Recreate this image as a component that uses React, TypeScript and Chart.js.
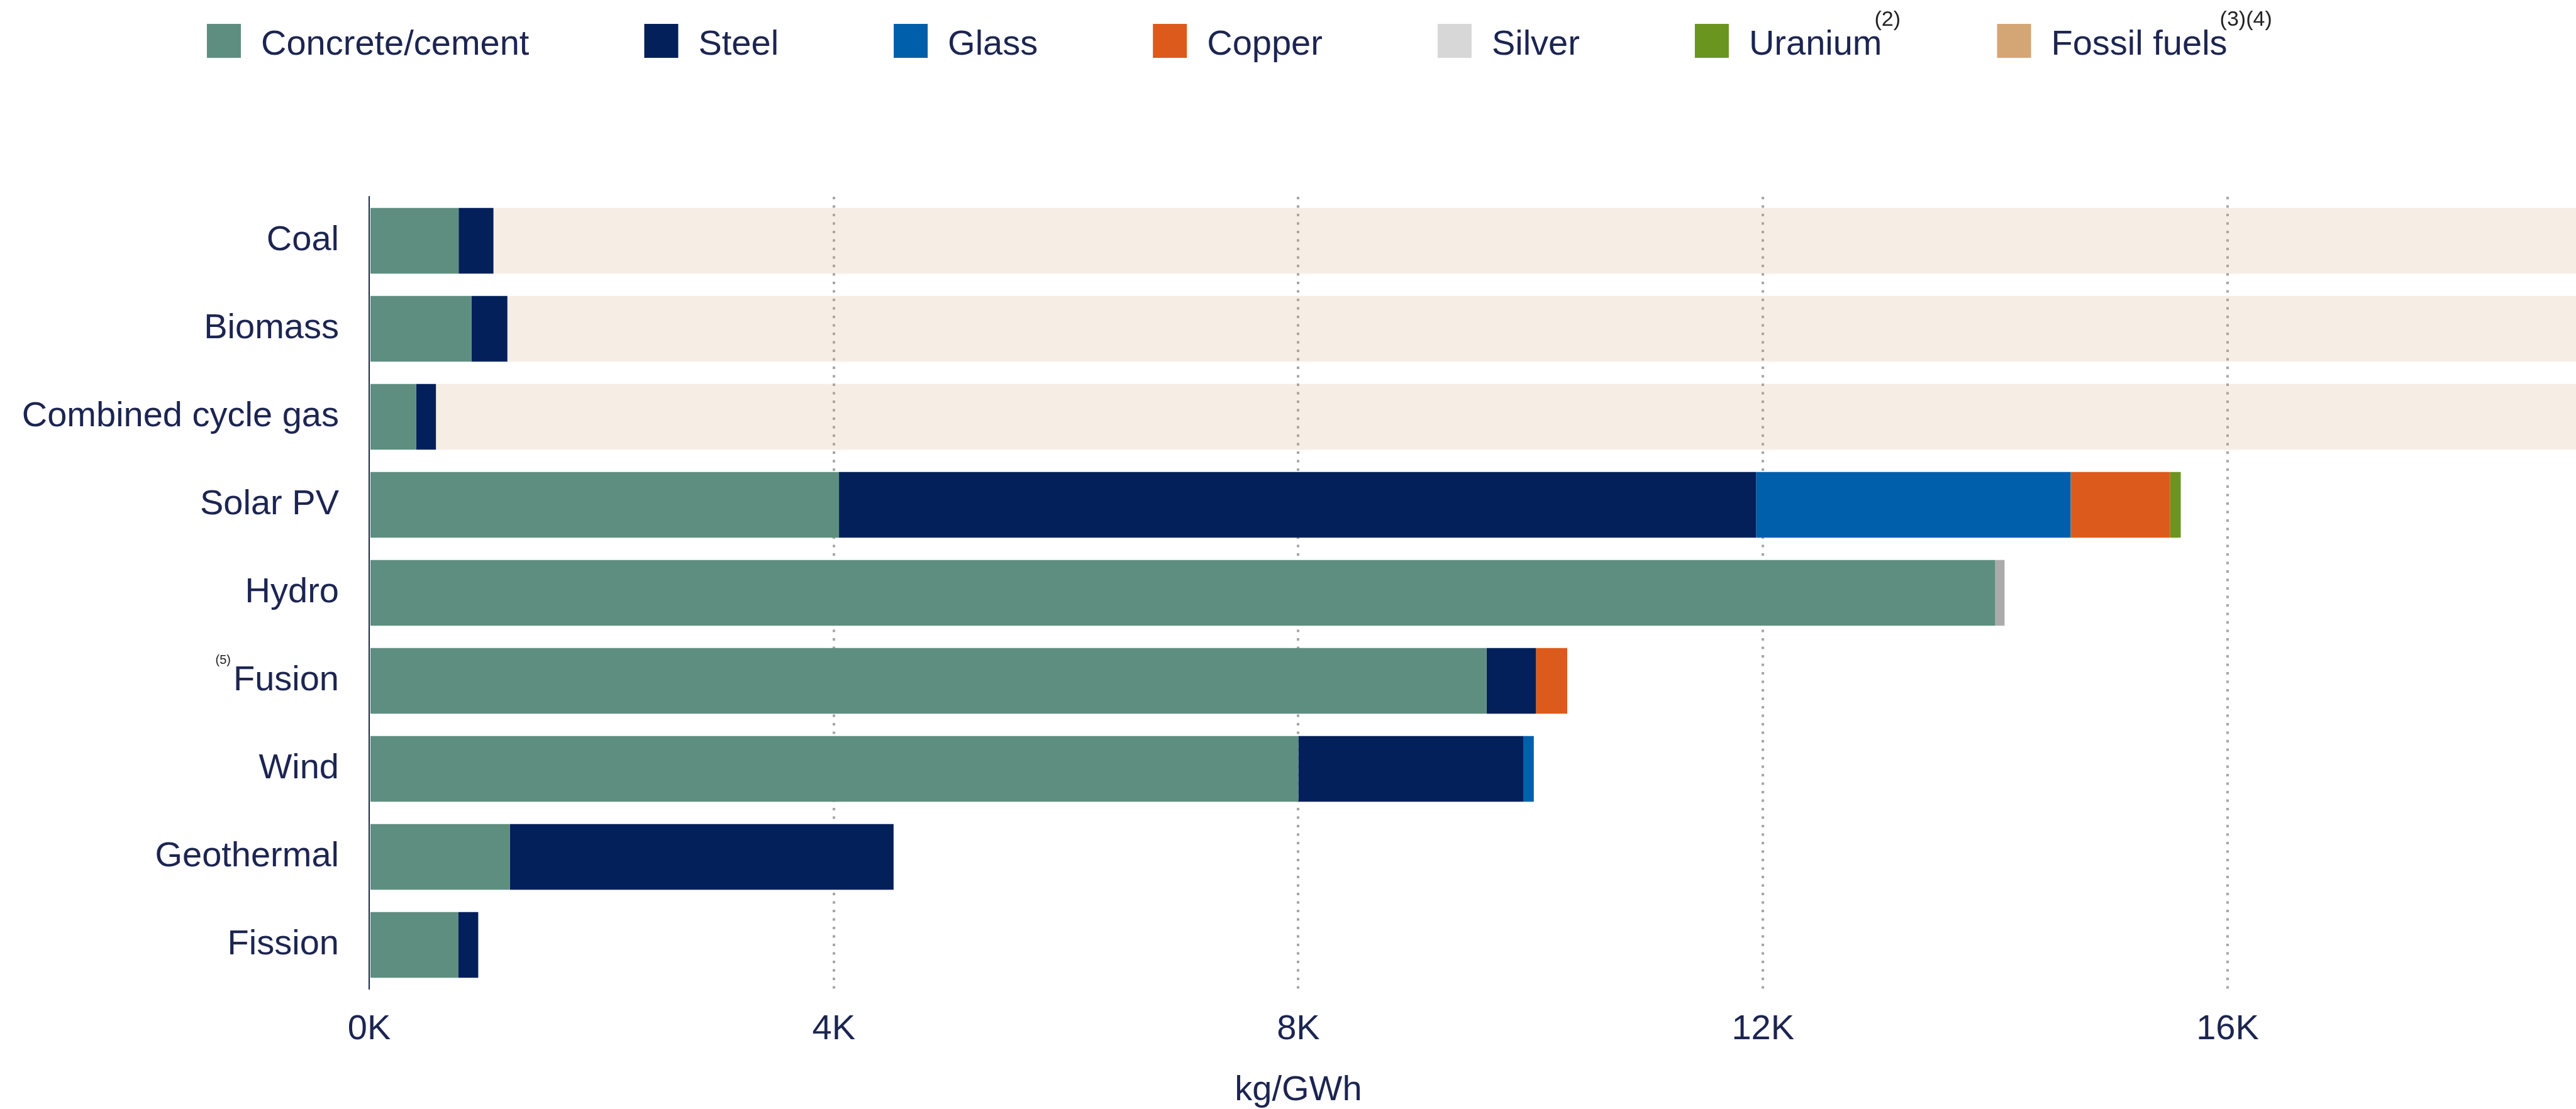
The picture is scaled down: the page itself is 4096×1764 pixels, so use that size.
import React, { useEffect, useRef } from 'react';
import { Chart, registerables } from 'chart.js';

Chart.register(...registerables);

// ---------- data ----------
const categories = ['Coal', 'Biomass', 'Combined cycle gas', 'Solar PV', 'Hydro', 'Fusion', 'Wind', 'Geothermal', 'Fission'];
const concreteCement = [770, 880, 405, 4045, 14000, 9620, 8000, 1212, 766];
const steel = [300, 310, 170, 7896, 0, 426, 1936, 3303, 173];
const glass = [0, 0, 0, 2708, 0, 0, 91, 0, 0];
const copper = [0, 0, 0, 857, 0, 269, 0, 0, 0];
const silver = [0, 0, 0, 0, 80, 0, 0, 0, 0];
const uranium = [0, 0, 0, 91, 0, 0, 0, 0, 0];
// fossil fuel bars run past the visible axis; values are estimates
const fossilFuels = [400000, 400000, 150000, 0, 0, 0, 0, 0, 0];
const xTickValues = [0, 4000, 8000, 12000, 16000];
const xMax = 19000;
const seriesLabels = ['Concrete/cement', 'Steel', 'Glass', 'Copper', 'Silver', 'Uranium', 'Fossil fuels'];
const legendSuperscripts: Record<string, string> = { Uranium: '(2)', 'Fossil fuels': '(3)(4)' };
const categoryPrefixes: Record<string, string> = { Fusion: '(5)' };
const axisTitle = 'kg/GWh';

// ---------- styles ----------
const FONT = '"Liberation Sans", Arial, sans-serif';
const TEXT = '#1c2551';
const W = 4096;
const H = 1764;
const FS = 56;

const barColors = ['#5e8e80', '#03205a', '#005fab', '#dc5b1c', '#ababab', '#6a961f', 'rgba(212,166,118,0.2)'];
const legendColors = ['#5e8e80', '#03205a', '#005fab', '#dc5b1c', '#d7d7d7', '#6a961f', '#d4a676'];
const seriesValues = [concreteCement, steel, glass, copper, silver, uranium, fossilFuels];

const overlayPlugin = {
  id: 'overlay',
  afterDraw(chart: any) {
    const ctx = chart.ctx as CanvasRenderingContext2D;
    ctx.save();
    // legend
    let x = 329;
    const boxTop = 38;
    const box = 54;
    const baseline = 87;
    chart.data.datasets.forEach((ds: any) => {
      ctx.fillStyle = ds.legendColor;
      ctx.fillRect(x, boxTop, box, box);
      const tx = x + box + 32;
      ctx.font = `${FS}px ${FONT}`;
      ctx.fillStyle = TEXT;
      ctx.textAlign = 'left';
      ctx.textBaseline = 'alphabetic';
      ctx.fillText(ds.label, tx, baseline);
      const w = ctx.measureText(ds.label).width;
      const sup = legendSuperscripts[ds.label];
      if (sup) {
        ctx.font = `34px ${FONT}`;
        ctx.fillStyle = '#222';
        ctx.fillText(sup, tx + w - 12, 41);
      }
      x = tx + w + 183;
    });

    // category prefixes (footnote markers)
    const yScale = chart.scales.y;
    categories.forEach((c, i) => {
      const pre = categoryPrefixes[c];
      if (!pre) return;
      const y = yScale.getPixelForTick(i);
      ctx.font = `${FS}px ${FONT}`;
      const w = ctx.measureText(c).width;
      const right = yScale.right - 48 - w - 4;
      ctx.font = `20px ${FONT}`;
      ctx.fillStyle = '#222';
      ctx.textAlign = 'right';
      ctx.textBaseline = 'alphabetic';
      ctx.fillText(pre, right, y - 27);
    });

    // x axis title
    const xScale = chart.scales.x;
    const cx = (xScale.getPixelForValue(xTickValues[0]) + xScale.getPixelForValue(xTickValues[xTickValues.length - 1])) / 2;
    ctx.font = `${FS}px ${FONT}`;
    ctx.fillStyle = TEXT;
    ctx.textAlign = 'center';
    ctx.textBaseline = 'middle';
    ctx.fillText(axisTitle, cx, 1735);
    ctx.restore();
  },
};

export default function App() {
  const ref = useRef<HTMLCanvasElement>(null);
  useEffect(() => {
    if (!ref.current) return;
    const chart = new Chart(ref.current, {
      type: 'bar',
      data: {
        labels: categories,
        datasets: seriesLabels.map((label, i) => ({
          label,
          data: seriesValues[i],
          backgroundColor: barColors[i],
          legendColor: legendColors[i],
          borderWidth: 0,
          categoryPercentage: 1,
          barPercentage: 0.745,
        })) as any,
      },
      options: {
        indexAxis: 'y',
        animation: false,
        responsive: false,
        devicePixelRatio: 1,
        layout: { padding: { top: 313, left: 0, right: 0, bottom: 0 } },
        plugins: {
          legend: { display: false },
          tooltip: { enabled: false },
          title: { display: false },
        },
        scales: {
          x: {
            stacked: true,
            min: 0,
            max: xMax,
            z: 1,
            afterBuildTicks(scale: any) {
              scale.ticks = xTickValues.map((v) => ({ value: v }));
            },
            afterFit(scale: any) {
              scale.height = 191;
            },
            ticks: {
              padding: 31,
              color: TEXT,
              font: { family: FONT, size: FS },
              callback: (v: any) => `${Number(v) / 1000}K`,
            },
            grid: {
              drawTicks: false,
              lineWidth: 4,
              color: (c: any) => (c.tick && c.tick.value === 0 ? 'rgba(0,0,0,0)' : '#a6a6a6'),
            },
            border: { display: false, dash: [4, 9.5] },
          },
          y: {
            stacked: true,
            z: 1,
            afterFit(scale: any) {
              scale.width = 587;
            },
            ticks: {
              padding: 48,
              color: TEXT,
              font: { family: FONT, size: FS },
            },
            grid: { display: false, drawTicks: false },
            border: { display: true, color: TEXT, width: 2 },
          },
        },
      } as any,
      plugins: [overlayPlugin],
    });
    return () => chart.destroy();
  }, []);
  return (
    <div style={{ position: 'fixed', left: 0, top: 0, width: W, height: H, background: '#fff' }}>
      <canvas ref={ref} width={W} height={H} style={{ display: 'block', width: W, height: H }} />
    </div>
  );
}
